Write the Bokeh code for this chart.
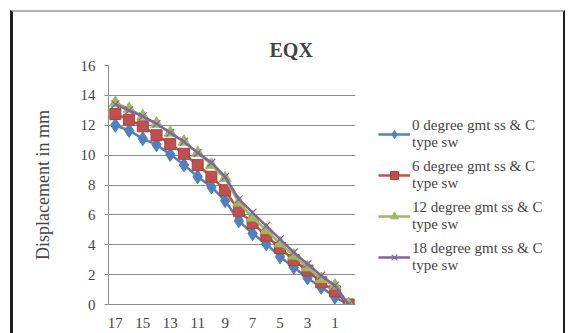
from bokeh.plotting import figure
from bokeh.models import Legend, LegendItem, FixedTicker, Range1d
from bokeh.layouts import row
from bokeh.embed import file_html
from bokeh.resources import INLINE

# storey numbers, top storey first
stories = [17, 16, 15, 14, 13, 12, 11, 10, 9, 8, 7, 6, 5, 4, 3, 2, 1, 0]

disp_0 = [12.0, 11.65, 11.1, 10.7, 10.05, 9.35, 8.55, 7.87, 6.95, 5.6, 4.75, 4.05, 3.2, 2.49, 1.78, 1.15, 0.5, 0.0]
disp_6 = [12.75, 12.37, 11.93, 11.33, 10.75, 10.09, 9.33, 8.55, 7.65, 6.27, 5.45, 4.6, 3.78, 2.98, 2.27, 1.49, 0.89, 0.0]
disp_12 = [13.5, 13.1, 12.6, 12.1, 11.5, 10.9, 10.15, 9.35, 8.45, 6.82, 5.82, 4.98, 4.09, 3.27, 2.49, 1.71, 1.27, 0.0]
disp_18 = [13.4, 13.0, 12.6, 12.1, 11.5, 10.9, 10.15, 9.5, 8.55, 7.05, 6.15, 5.27, 4.38, 3.49, 2.71, 1.93, 1.27, 0.0]

series_labels = [
    "0 degree gmt ss & C\ntype sw",
    "6 degree gmt ss & C\ntype sw",
    "12 degree gmt ss & C\ntype sw",
    "18 degree gmt ss & C\ntype sw",
]
colors = ["#4F81BD", "#C0504D", "#9BBB59", "#8064A2"]

xs = list(range(len(stories)))
serif = "Liberation Serif"


def add_series(fig, k, xv, yv):
    c = colors[k]
    ln = fig.line(xv, yv, line_color=c, line_width=2.5)
    if k == 0:
        mk = fig.scatter(xv, yv, marker="diamond", size=14, fill_color=c, line_color=c)
    elif k == 1:
        mk = fig.scatter(xv, yv, marker="square", size=11, fill_color=c, line_color="#A8423F")
    elif k == 2:
        mk = fig.scatter(xv, yv, marker="triangle", size=12, fill_color=c, line_color=c)
    else:
        mk = fig.scatter(xv, yv, marker="x", size=11, line_color=c, line_width=1.2)
    return ln, mk


# main chart
p = figure(
    width=357, height=321,
    x_range=Range1d(-0.5, len(stories) - 0.5),
    y_range=Range1d(0, 16),
    output_backend="svg", toolbar_location=None,
    min_border_left=95, min_border_right=15,
    min_border_top=53, min_border_bottom=29,
)
p.outline_line_color = None
p.border_fill_color = "white"

p.title.text = "EQX"
p.title.text_font = serif
p.title.text_font_size = "20px"
p.title.text_font_style = "bold"
p.title.align = "left"
p.title.offset = 161
p.title.standoff = 10

# x axis: every other storey is labelled
odd_pos = [i for i, s in enumerate(stories) if s % 2 == 1]
p.xaxis.ticker = FixedTicker(ticks=odd_pos)
p.xaxis.major_label_overrides = {i: str(stories[i]) for i in odd_pos}
p.xaxis.major_tick_line_color = None
p.xaxis.minor_tick_line_color = None
p.xaxis.axis_line_color = "#8c8c8c"
p.xaxis.major_label_text_font = serif
p.xaxis.major_label_text_font_size = "15px"
p.xaxis.major_label_standoff = 7
p.xgrid.grid_line_color = None

p.yaxis.ticker = FixedTicker(ticks=list(range(0, 17, 2)))
p.yaxis.axis_line_color = "#8c8c8c"
p.yaxis.major_tick_line_color = "#8c8c8c"
p.yaxis.major_tick_out = 4
p.yaxis.major_tick_in = 0
p.yaxis.minor_tick_line_color = None
p.yaxis.major_label_text_font = serif
p.yaxis.major_label_text_font_size = "15px"
p.yaxis.major_label_standoff = 9
p.yaxis.axis_label = "Displacement in mm"
p.yaxis.axis_label_text_font = serif
p.yaxis.axis_label_text_font_size = "18px"
p.yaxis.axis_label_text_font_style = "normal"
p.yaxis.axis_label_standoff = 25
p.ygrid.grid_line_color = "#8c8c8c"
p.ygrid.grid_line_width = 1

data = [disp_0, disp_6, disp_12, disp_18]
for k, ys in enumerate(data):
    add_series(p, k, xs, ys)

# legend panel; its renderers hold points placed outside the visible range
lg = figure(
    width=193, height=321,
    x_range=Range1d(0, 1), y_range=Range1d(0, 1),
    output_backend="svg", toolbar_location=None,
    x_axis_location=None, y_axis_location=None,
    min_border=0,
)
lg.outline_line_color = None
lg.grid.grid_line_color = None
lg.border_fill_color = "white"

items = []
for k in range(len(series_labels)):
    ln, mk = add_series(lg, k, [-5, -6], [-5, -6])
    items.append(LegendItem(label=series_labels[k], renderers=[ln, mk]))

legend = Legend(
    items=items,
    location=(8, 30),
    border_line_color=None,
    background_fill_alpha=0,
    label_text_font=serif,
    label_text_font_size="15px",
    label_text_line_height=1.1,
    glyph_width=32,
    spacing=7,
    padding=0,
    margin=0,
    label_standoff=2,
)
lg.add_layout(legend, "center")

layout = row(p, lg)
layout.margin = (10, 0, 0, 10)
layout.styles = {
    "border-left": "3px solid #1e1e1e",
    "border-top": "2px solid #b0b0b0",
    "border-right": "2px solid #1e1e1e",
}

open("out.html", "w").write(file_html(layout, INLINE))
